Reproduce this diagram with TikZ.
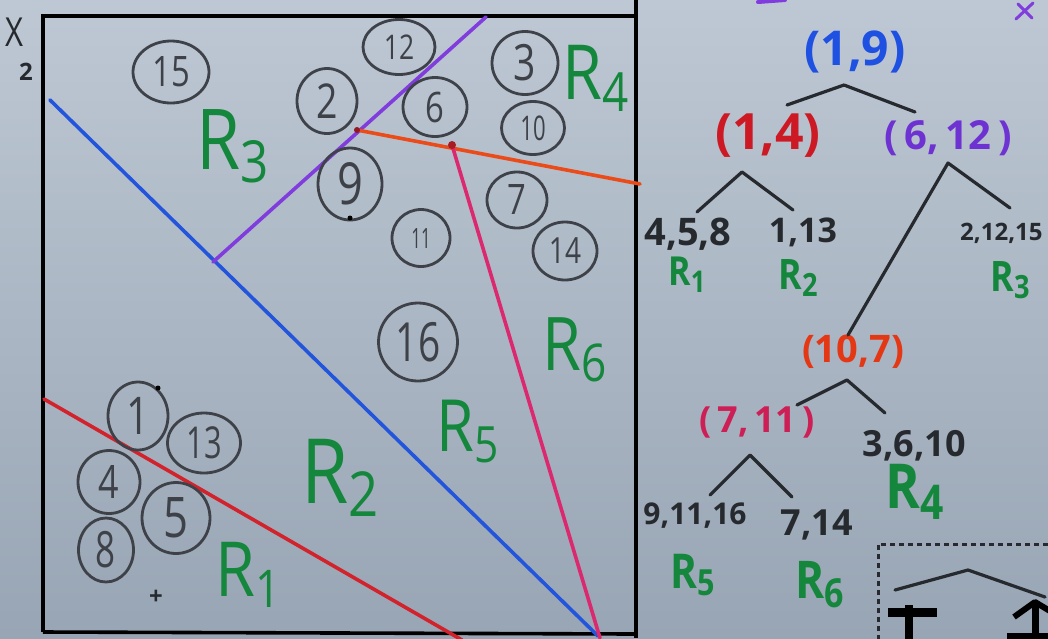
\documentclass[tikz,border=0pt]{standalone}
\usepackage{fontspec}
\setmainfont{Open Sans}
\definecolor{boardtop}{RGB}{190,200,212}
\definecolor{boardbot}{RGB}{152,165,180}
\definecolor{ink}{RGB}{38,42,46}
\definecolor{ptgray}{RGB}{62,66,72}
\definecolor{lblue}{RGB}{35,85,220}
\definecolor{lred}{RGB}{210,35,45}
\definecolor{lpurple}{RGB}{128,60,220}
\definecolor{lorange}{RGB}{235,75,25}
\definecolor{lpink}{RGB}{220,40,110}
\definecolor{rgreen}{RGB}{20,135,60}
\definecolor{tblue}{RGB}{30,80,225}
\definecolor{tred}{RGB}{205,25,35}
\definecolor{tpurple}{RGB}{110,50,210}
\definecolor{torange}{RGB}{228,55,20}
\definecolor{tcrimson}{RGB}{205,30,85}
\newcommand{\fs}[1]{\fontsize{#1}{#1}\selectfont}
\newcommand{\nar}[2][0.78]{\scalebox{#1}[1]{#2}}
\newcommand{\rsub}[2]{\nar[0.85]{R{\fs{#1}\raisebox{-0.22em}{#2}}}}
\usetikzlibrary{shapes.geometric}
\begin{document}
\begin{tikzpicture}[x=1pt,y=-1pt,
  pt/.style={ellipse,draw=ptgray,line width=2.8pt,inner sep=0pt,text=ptgray},
  reg/.style={text=rgreen,font=\fs{#1},inner sep=0pt},
  sreg/.style={text=rgreen,font=\bfseries\fs{#1},inner sep=0pt},
  leaf/.style={text=ink,font=\bfseries\fs{#1},inner sep=0pt},
  tup/.style={font=\bfseries\fs{#1},inner sep=0pt},
  edge/.style={draw=ink,line width=3.2pt,line cap=round,line join=round},
  split/.style={line width=3.6pt,line cap=round},
  frame/.style={draw=black,line width=3.6pt}]
\clip (0,0) rectangle (1048,638);
\shade[top color=boardtop,bottom color=boardbot] (0,0) rectangle (1048,638);
% frame
\draw[frame] (43,632) -- (43,16) -- (636,16);
\draw[frame] (636,0) -- (636,638);
\draw[frame] (43,632) -- (636,634);
\node[text=ink,font=\fs{40},inner sep=0pt] (xlab) at (15,32) {\nar{X}};
\node[text=ink,font=\bfseries\fs{24},inner sep=0pt] (xsub) at (26,72) {2};
% split lines
\coordinate (b1) at (50,100);
\coordinate (b2) at (598,636);
\coordinate (r1) at (44,399);
\coordinate (r2) at (462,640);
\coordinate (p1) at (213,262);
\coordinate (p2) at (486,17);
\coordinate (o1) at (357,130);
\coordinate (o2) at (640,184);
\coordinate (k1) at (452,145);
\coordinate (k2) at (600,638);
\draw[split,lblue] (b1) -- (b2);
\draw[split,lred] (r1) -- (r2);
\draw[split,lpurple] (p1) -- (p2);
\draw[split,lorange] (o1) -- (o2);
\draw[split,lpink] (k1) -- (k2);
\fill[lred!80!black] (k1) circle (4pt);
\fill[lred!70!black] (o1) circle (3pt);
% points
\node[pt,minimum width=76pt,minimum height=62pt,font=\fs{42}] (c15) at (171,72) {\nar{15}};
\node[pt,minimum width=72pt,minimum height=55pt,font=\fs{34}] (c12) at (399,47) {\nar{12}};
\node[pt,minimum width=60pt,minimum height=65pt,font=\fs{48}] (c2) at (327,101) {\nar{2}};
\node[pt,minimum width=64pt,minimum height=59pt,font=\fs{42}] (c6) at (435,107) {\nar{6}};
\node[pt,minimum width=66pt,minimum height=63pt,font=\fs{50}] (c3) at (525,63) {\nar{3}};
\node[pt,minimum width=63pt,minimum height=53pt,font=\fs{34}] (c10) at (533,128) {\nar[0.65]{10}};
\node[pt,minimum width=64pt,minimum height=72pt,font=\fs{58}] (c9) at (350,184) {\nar{9}};
\node[pt,minimum width=60pt,minimum height=56pt,font=\fs{42}] (c7) at (517,200) {\nar{7}};
\node[pt,minimum width=58pt,minimum height=57pt,font=\fs{28}] (c11) at (421,238) {\nar[0.6]{11}};
\node[pt,minimum width=64pt,minimum height=58pt,font=\fs{36}] (c14) at (565,251) {\nar{14}};
\node[pt,minimum width=79pt,minimum height=78pt,font=\fs{54}] (c16) at (418,342) {\nar[0.72]{16}};
\node[pt,minimum width=60pt,minimum height=68pt,font=\fs{52}] (c1) at (138,416) {\nar{1}};
\node[pt,minimum width=73pt,minimum height=60pt,font=\fs{44}] (c13) at (204,443) {\nar[0.7]{13}};
\node[pt,minimum width=62pt,minimum height=63pt,font=\fs{46}] (c4) at (109,482) {\nar{4}};
\node[pt,minimum width=68pt,minimum height=71pt,font=\fs{56}] (c5) at (176,518) {\nar{5}};
\node[pt,minimum width=55pt,minimum height=64pt,font=\fs{50}] (c8) at (106,550) {\nar[0.7]{8}};
\fill[black] (158,388) circle (2.5pt);
\fill[black] (350,218) circle (2.5pt);
\node[text=ink,font=\bfseries\fs{24},inner sep=0pt] (plus) at (156,597) {+};
% region labels
\node[reg=84] (R3) at (233,146) {\rsub{58}{3}};
\node[reg=76] (R4) at (596,78) {\rsub{54}{4}};
\node[reg=74] (R6) at (575,350) {\rsub{52}{6}};
\node[reg=72] (R5) at (468,432) {\rsub{50}{5}};
\node[reg=90] (R2) at (340,478) {\rsub{62}{2}};
\node[reg=76] (R1) at (248,575) {\rsub{52}{1}};
% tree nodes
\node[tup=48,text=tblue] (n19) at (855,52) {(1,9)};
\node[tup=50,text=tred] (n14) at (768,136) {(1,4)};
\node[tup=40,text=tpurple] (n612) at (948,138) {(\,6,\,12\,)};
\node[leaf=38] (l458) at (688,234) {4,5,8};
\node[leaf=34] (l113) at (803,232) {1,13};
\node[leaf=24,anchor=west] (l21215) at (960,233) {2,12,15};
\node[tup=38,text=torange] (n107) at (853,352) {(10,7)};
\node[tup=36,text=tcrimson] (n711) at (757,422) {(\,7,\,11\,)};
\node[leaf=36] (l3610) at (914,446) {3,6,10};
\node[leaf=30] (l91116) at (695,516) {9,11,16};
\node[leaf=36] (l714) at (817,525) {7,14};
\node[sreg=40] (tR1) at (687,275) {\rsub{30}{1}};
\node[sreg=42] (tR2) at (798,278) {\rsub{32}{2}};
\node[sreg=42] (tR3) at (1010,280) {\rsub{32}{3}};
\node[sreg=62] (tR4) at (915,492) {\rsub{48}{4}};
\node[sreg=48] (tR5) at (693,575) {\rsub{36}{5}};
\node[sreg=52] (tR6) at (820,585) {\rsub{40}{6}};
% tree connectors
\coordinate (a19) at (844,85);
\coordinate (a19l) at (787,105);
\coordinate (a19r) at (915,112);
\coordinate (a14) at (742,172);
\coordinate (a14l) at (697,212);
\coordinate (a14r) at (793,210);
\coordinate (a612) at (948,163);
\coordinate (a612r) at (1010,208);
\coordinate (a612l) at (848,335);
\coordinate (a107) at (847,380);
\coordinate (a107l) at (797,405);
\coordinate (a107r) at (885,413);
\coordinate (a711) at (750,455);
\coordinate (a711l) at (710,495);
\coordinate (a711r) at (792,497);
\draw[edge] (a19l) -- (a19) -- (a19r);
\draw[edge] (a14l) -- (a14) -- (a14r);
\draw[edge] (a612l) -- (a612) -- (a612r);
\draw[edge] (a107l) -- (a107) -- (a107r);
\draw[edge] (a711l) -- (a711) -- (a711r);
% dashed box at bottom right
\coordinate (d1) at (878,640);
\coordinate (d2) at (878,544);
\coordinate (d3) at (1050,544);
\draw[ink,line width=3pt,dash pattern=on 5pt off 4pt] (d1) -- (d2) -- (d3);
\coordinate (e1) at (895,590);
\coordinate (e2) at (968,570);
\coordinate (e3) at (1045,597);
\draw[edge] (e1) -- (e2) -- (e3);
\draw[black,line width=9pt] (888,612) -- (937,612);
\draw[black,line width=8pt] (909,605) -- (909,640);
\draw[black,line width=6pt,line join=round] (1014,617) -- (1035,602) -- (1050,611);
\draw[black,line width=7pt] (1035,602) -- (1035,640);
\draw[black,line width=6pt] (1007,636) -- (1050,636);
% top marks
\draw[lpurple,line width=3pt,line cap=round] (1018,4) -- (1032,18);
\draw[lpurple,line width=3pt,line cap=round] (1033,3) -- (1016,19);
\draw[lpurple,line width=4pt,line cap=round] (758,2) -- (785,0);
\end{tikzpicture}
\end{document}
